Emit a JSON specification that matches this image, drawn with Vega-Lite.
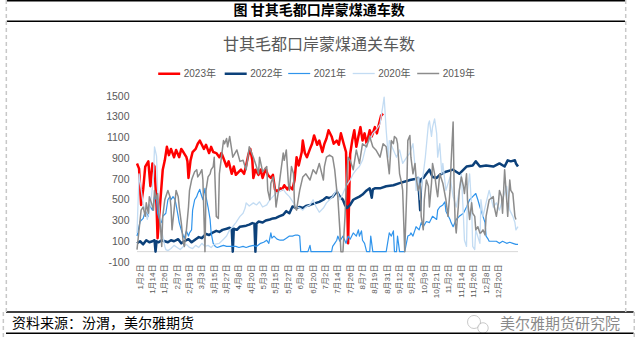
{
  "$schema": "https://vega.github.io/schema/vega-lite/v6.json",
  "width": 381,
  "height": 166,
  "autosize": {"type": "none"},
  "padding": {"left": 137, "top": 96, "right": 118, "bottom": 90},
  "background": "white",
  "config": {"view": {"stroke": null}, "font": "Liberation Sans, Noto Sans CJK SC", "axis": {"labelOverlap": false}},
  "datasets": {
    "counts": [
      {"year":"2023年","i":0,"n":850},{"year":"2023年","i":2,"n":800},{"year":"2023年","i":4,"n":450},{"year":"2023年","i":6,"n":600},{"year":"2023年","i":8,"n":820},{"year":"2023年","i":11,"n":870},{"year":"2023年","i":13,"n":630},{"year":"2023年","i":15,"n":850},{"year":"2023年","i":17,"n":820},{"year":"2023年","i":19,"n":430},{"year":"2023年","i":20,"n":130},{"year":"2023年","i":23,"n":530},{"year":"2023年","i":25,"n":790},{"year":"2023年","i":27,"n":880},{"year":"2023年","i":29,"n":1010},{"year":"2023年","i":31,"n":930},{"year":"2023年","i":33,"n":990},{"year":"2023年","i":36,"n":910},{"year":"2023年","i":38,"n":980},{"year":"2023年","i":41,"n":910},{"year":"2023年","i":43,"n":990},{"year":"2023年","i":45,"n":960},{"year":"2023年","i":48,"n":910},{"year":"2023年","i":49,"n":870},{"year":"2023年","i":50,"n":710},{"year":"2023年","i":52,"n":880},{"year":"2023年","i":54,"n":960},{"year":"2023年","i":57,"n":990},{"year":"2023年","i":59,"n":1040},{"year":"2023年","i":61,"n":1070},{"year":"2023年","i":63,"n":1030},{"year":"2023年","i":65,"n":990},{"year":"2023年","i":67,"n":1030},{"year":"2023年","i":70,"n":950},{"year":"2023年","i":72,"n":1010},{"year":"2023年","i":74,"n":960},{"year":"2023年","i":77,"n":950},{"year":"2023年","i":80,"n":910},{"year":"2023年","i":82,"n":950},{"year":"2023年","i":84,"n":900},{"year":"2023年","i":87,"n":820},{"year":"2023年","i":89,"n":870},{"year":"2023年","i":92,"n":750},{"year":"2023年","i":94,"n":820},{"year":"2023年","i":96,"n":740},{"year":"2023年","i":99,"n":770},{"year":"2023年","i":101,"n":790},{"year":"2023年","i":104,"n":750},{"year":"2023年","i":106,"n":830},{"year":"2023年","i":108,"n":930},{"year":"2023年","i":110,"n":990},{"year":"2023年","i":112,"n":880},{"year":"2023年","i":113,"n":710},{"year":"2023年","i":115,"n":790},{"year":"2023年","i":118,"n":740},{"year":"2023年","i":120,"n":790},{"year":"2023年","i":122,"n":710},{"year":"2023年","i":125,"n":800},{"year":"2023年","i":127,"n":740},{"year":"2023年","i":130,"n":710},{"year":"2023年","i":132,"n":740},{"year":"2023年","i":134,"n":600},{"year":"2023年","i":136,"n":580},{"year":"2023年","i":139,"n":610},{"year":"2023年","i":141,"n":600},{"year":"2023年","i":143,"n":640},{"year":"2023年","i":146,"n":600},{"year":"2023年","i":148,"n":630},{"year":"2023年","i":151,"n":600},{"year":"2023年","i":153,"n":690},{"year":"2023年","i":155,"n":910},{"year":"2023年","i":157,"n":830},{"year":"2023年","i":160,"n":960},{"year":"2023年","i":161,"n":1070},{"year":"2023年","i":163,"n":950},{"year":"2023年","i":165,"n":910},{"year":"2023年","i":168,"n":990},{"year":"2023年","i":170,"n":1040},{"year":"2023年","i":172,"n":1120},{"year":"2023年","i":175,"n":1030},{"year":"2023年","i":177,"n":1070},{"year":"2023年","i":180,"n":960},{"year":"2023年","i":182,"n":1040},{"year":"2023年","i":184,"n":1090},{"year":"2023年","i":186,"n":1170},{"year":"2023年","i":189,"n":1110},{"year":"2023年","i":191,"n":1040},{"year":"2023年","i":194,"n":1070},{"year":"2023年","i":196,"n":1030},{"year":"2023年","i":198,"n":1140},{"year":"2023年","i":201,"n":1030},{"year":"2023年","i":203,"n":960},{"year":"2023年","i":205,"n":80},{"year":"2023年","i":207,"n":940},{"year":"2023年","i":209,"n":1070},{"year":"2023年","i":211,"n":1170},{"year":"2023年","i":213,"n":1010},{"year":"2023年","i":215,"n":1110},{"year":"2023年","i":217,"n":1200},{"year":"2023年","i":219,"n":1070},{"year":"2023年","i":221,"n":1140},{"year":"2023年","i":223,"n":1040},{"year":"2023年","i":226,"n":1170},{"year":"2023年","i":228,"n":1110},{"year":"2023年","i":231,"n":1200},{"year":"2023年","i":233,"n":1140},{"year":"2023年","i":235,"n":1230},{"year":"2023年","i":237,"n":1310},{"year":"2023年","i":239,"n":1330},

      {"year":"2022年","i":0,"n":80},{"year":"2022年","i":3,"n":100},{"year":"2022年","i":6,"n":70},{"year":"2022年","i":9,"n":110},{"year":"2022年","i":12,"n":90},{"year":"2022年","i":15,"n":100},{"year":"2022年","i":17,"n":110},{"year":"2022年","i":18,"n":0},{"year":"2022年","i":19,"n":100},{"year":"2022年","i":21,"n":90},{"year":"2022年","i":24,"n":110},{"year":"2022年","i":27,"n":100},{"year":"2022年","i":30,"n":90},{"year":"2022年","i":33,"n":110},{"year":"2022年","i":36,"n":100},{"year":"2022年","i":40,"n":120},{"year":"2022年","i":43,"n":80},{"year":"2022年","i":46,"n":100},{"year":"2022年","i":50,"n":120},{"year":"2022年","i":53,"n":90},{"year":"2022年","i":57,"n":120},{"year":"2022年","i":60,"n":140},{"year":"2022年","i":63,"n":130},{"year":"2022年","i":67,"n":170},{"year":"2022年","i":70,"n":160},{"year":"2022年","i":73,"n":180},{"year":"2022年","i":77,"n":200},{"year":"2022年","i":80,"n":190},{"year":"2022年","i":83,"n":210},{"year":"2022年","i":87,"n":220},{"year":"2022年","i":90,"n":230},{"year":"2022年","i":92,"n":220},{"year":"2022年","i":93,"n":0},{"year":"2022年","i":94,"n":220},{"year":"2022年","i":97,"n":210},{"year":"2022年","i":100,"n":240},{"year":"2022年","i":103,"n":245},{"year":"2022年","i":106,"n":250},{"year":"2022年","i":109,"n":260},{"year":"2022年","i":112,"n":275},{"year":"2022年","i":114,"n":270},{"year":"2022年","i":115,"n":0},{"year":"2022年","i":116,"n":270},{"year":"2022年","i":118,"n":290},{"year":"2022年","i":122,"n":280},{"year":"2022年","i":125,"n":300},{"year":"2022年","i":129,"n":310},{"year":"2022年","i":132,"n":320},{"year":"2022年","i":135,"n":325},{"year":"2022年","i":138,"n":340},{"year":"2022年","i":142,"n":355},{"year":"2022年","i":145,"n":390},{"year":"2022年","i":148,"n":370},{"year":"2022年","i":151,"n":435},{"year":"2022年","i":155,"n":420},{"year":"2022年","i":158,"n":430},{"year":"2022年","i":161,"n":420},{"year":"2022年","i":164,"n":440},{"year":"2022年","i":168,"n":450},{"year":"2022年","i":171,"n":460},{"year":"2022年","i":174,"n":470},{"year":"2022年","i":177,"n":480},{"year":"2022年","i":181,"n":500},{"year":"2022年","i":184,"n":525},{"year":"2022年","i":187,"n":515},{"year":"2022年","i":190,"n":530},{"year":"2022年","i":194,"n":580},{"year":"2022年","i":197,"n":530},{"year":"2022年","i":200,"n":500},{"year":"2022年","i":202,"n":450},{"year":"2022年","i":204,"n":420},{"year":"2022年","i":207,"n":450},{"year":"2022年","i":210,"n":500},{"year":"2022年","i":213,"n":515},{"year":"2022年","i":216,"n":530},{"year":"2022年","i":219,"n":550},{"year":"2022年","i":223,"n":590},{"year":"2022年","i":226,"n":610},{"year":"2022年","i":228,"n":520},{"year":"2022年","i":229,"n":600},{"year":"2022年","i":231,"n":610},{"year":"2022年","i":236,"n":610},{"year":"2022年","i":242,"n":630},{"year":"2022年","i":249,"n":640},{"year":"2022年","i":255,"n":660},{"year":"2022年","i":262,"n":680},{"year":"2022年","i":265,"n":690},{"year":"2022年","i":270,"n":700},{"year":"2022年","i":273,"n":710},{"year":"2022年","i":275,"n":400},{"year":"2022年","i":276,"n":700},{"year":"2022年","i":278,"n":710},{"year":"2022年","i":281,"n":750},{"year":"2022年","i":284,"n":790},{"year":"2022年","i":287,"n":720},{"year":"2022年","i":291,"n":710},{"year":"2022年","i":294,"n":740},{"year":"2022年","i":300,"n":770},{"year":"2022年","i":307,"n":790},{"year":"2022年","i":313,"n":750},{"year":"2022年","i":320,"n":820},{"year":"2022年","i":326,"n":830},{"year":"2022年","i":329,"n":870},{"year":"2022年","i":333,"n":820},{"year":"2022年","i":339,"n":830},{"year":"2022年","i":346,"n":820},{"year":"2022年","i":352,"n":850},{"year":"2022年","i":357,"n":820},{"year":"2022年","i":360,"n":880},{"year":"2022年","i":363,"n":870},{"year":"2022年","i":367,"n":880},{"year":"2022年","i":368,"n":850},{"year":"2022年","i":370,"n":820},

      {"year":"2021年","i":0,"n":150},{"year":"2021年","i":3,"n":290},{"year":"2021年","i":6,"n":320},{"year":"2021年","i":8,"n":390},{"year":"2021年","i":11,"n":340},{"year":"2021年","i":12,"n":450},{"year":"2021年","i":15,"n":400},{"year":"2021年","i":17,"n":530},{"year":"2021年","i":19,"n":500},{"year":"2021年","i":20,"n":370},{"year":"2021年","i":22,"n":310},{"year":"2021年","i":24,"n":280},{"year":"2021年","i":25,"n":340},{"year":"2021年","i":28,"n":370},{"year":"2021年","i":30,"n":500},{"year":"2021年","i":32,"n":530},{"year":"2021年","i":33,"n":500},{"year":"2021年","i":35,"n":530},{"year":"2021年","i":37,"n":500},{"year":"2021年","i":38,"n":450},{"year":"2021年","i":40,"n":340},{"year":"2021年","i":41,"n":280},{"year":"2021年","i":43,"n":210},{"year":"2021年","i":45,"n":150},{"year":"2021年","i":46,"n":130},{"year":"2021年","i":48,"n":200},{"year":"2021年","i":50,"n":150},{"year":"2021年","i":51,"n":180},{"year":"2021年","i":53,"n":210},{"year":"2021年","i":54,"n":400},{"year":"2021年","i":56,"n":500},{"year":"2021年","i":58,"n":530},{"year":"2021年","i":59,"n":560},{"year":"2021年","i":61,"n":600},{"year":"2021年","i":62,"n":560},{"year":"2021年","i":64,"n":500},{"year":"2021年","i":66,"n":610},{"year":"2021年","i":67,"n":530},{"year":"2021年","i":69,"n":430},{"year":"2021年","i":71,"n":310},{"year":"2021年","i":72,"n":180},{"year":"2021年","i":74,"n":80},{"year":"2021年","i":76,"n":50},{"year":"2021年","i":78,"n":40},{"year":"2021年","i":81,"n":50},{"year":"2021年","i":84,"n":60},{"year":"2021年","i":87,"n":50},{"year":"2021年","i":90,"n":50},{"year":"2021年","i":93,"n":50},{"year":"2021年","i":96,"n":50},{"year":"2021年","i":99,"n":40},{"year":"2021年","i":103,"n":50},{"year":"2021年","i":106,"n":40},{"year":"2021年","i":109,"n":50},{"year":"2021年","i":113,"n":60},{"year":"2021年","i":116,"n":50},{"year":"2021年","i":120,"n":80},{"year":"2021年","i":123,"n":90},{"year":"2021年","i":126,"n":110},{"year":"2021年","i":128,"n":80},{"year":"2021年","i":130,"n":180},{"year":"2021年","i":131,"n":130},{"year":"2021年","i":133,"n":150},{"year":"2021年","i":136,"n":120},{"year":"2021年","i":139,"n":110},{"year":"2021年","i":142,"n":110},{"year":"2021年","i":145,"n":130},{"year":"2021年","i":148,"n":150},{"year":"2021年","i":151,"n":150},{"year":"2021年","i":154,"n":160},{"year":"2021年","i":156,"n":160},{"year":"2021年","i":158,"n":150},{"year":"2021年","i":159,"n":0},{"year":"2021年","i":163,"n":0},{"year":"2021年","i":166,"n":0},{"year":"2021年","i":168,"n":60},{"year":"2021年","i":169,"n":0},{"year":"2021年","i":177,"n":0},{"year":"2021年","i":189,"n":0},{"year":"2021年","i":190,"n":50},{"year":"2021年","i":192,"n":80},{"year":"2021年","i":194,"n":110},{"year":"2021年","i":195,"n":150},{"year":"2021年","i":197,"n":100},{"year":"2021年","i":200,"n":150},{"year":"2021年","i":203,"n":80},{"year":"2021年","i":205,"n":150},{"year":"2021年","i":207,"n":120},{"year":"2021年","i":210,"n":180},{"year":"2021年","i":213,"n":150},{"year":"2021年","i":215,"n":210},{"year":"2021年","i":216,"n":150},{"year":"2021年","i":218,"n":200},{"year":"2021年","i":219,"n":110},{"year":"2021年","i":221,"n":80},{"year":"2021年","i":223,"n":0},{"year":"2021年","i":226,"n":0},{"year":"2021年","i":227,"n":150},{"year":"2021年","i":229,"n":0},{"year":"2021年","i":242,"n":0},{"year":"2021年","i":245,"n":180},{"year":"2021年","i":247,"n":150},{"year":"2021年","i":249,"n":200},{"year":"2021年","i":250,"n":0},{"year":"2021年","i":252,"n":0},{"year":"2021年","i":253,"n":150},{"year":"2021年","i":255,"n":0},{"year":"2021年","i":260,"n":0},{"year":"2021年","i":263,"n":150},{"year":"2021年","i":265,"n":160},{"year":"2021年","i":266,"n":180},{"year":"2021年","i":268,"n":150},{"year":"2021年","i":270,"n":210},{"year":"2021年","i":271,"n":240},{"year":"2021年","i":274,"n":210},{"year":"2021年","i":276,"n":280},{"year":"2021年","i":278,"n":240},{"year":"2021年","i":281,"n":290},{"year":"2021年","i":284,"n":280},{"year":"2021年","i":287,"n":340},{"year":"2021年","i":291,"n":310},{"year":"2021年","i":292,"n":400},{"year":"2021年","i":294,"n":430},{"year":"2021年","i":297,"n":450},{"year":"2021年","i":299,"n":480},{"year":"2021年","i":300,"n":390},{"year":"2021年","i":304,"n":310},{"year":"2021年","i":305,"n":280},{"year":"2021年","i":307,"n":240},{"year":"2021年","i":310,"n":310},{"year":"2021年","i":313,"n":340},{"year":"2021年","i":317,"n":370},{"year":"2021年","i":320,"n":430},{"year":"2021年","i":323,"n":500},{"year":"2021年","i":326,"n":530},{"year":"2021年","i":329,"n":560},{"year":"2021年","i":331,"n":500},{"year":"2021年","i":333,"n":430},{"year":"2021年","i":336,"n":340},{"year":"2021年","i":338,"n":280},{"year":"2021年","i":339,"n":150},{"year":"2021年","i":341,"n":120},{"year":"2021年","i":342,"n":100},{"year":"2021年","i":346,"n":100},{"year":"2021年","i":349,"n":100},{"year":"2021年","i":352,"n":80},{"year":"2021年","i":355,"n":100},{"year":"2021年","i":359,"n":80},{"year":"2021年","i":362,"n":90},{"year":"2021年","i":365,"n":80},{"year":"2021年","i":368,"n":70},{"year":"2021年","i":370,"n":70},

      {"year":"2020年","i":0,"n":180},{"year":"2020年","i":2,"n":750},{"year":"2020年","i":4,"n":600},{"year":"2020年","i":6,"n":460},{"year":"2020年","i":8,"n":400},{"year":"2020年","i":10,"n":310},{"year":"2020年","i":12,"n":400},{"year":"2020年","i":14,"n":530},{"year":"2020年","i":16,"n":720},{"year":"2020年","i":17,"n":1010},{"year":"2020年","i":19,"n":920},{"year":"2020年","i":20,"n":600},{"year":"2020年","i":22,"n":340},{"year":"2020年","i":24,"n":210},{"year":"2020年","i":25,"n":150},{"year":"2020年","i":27,"n":50},{"year":"2020年","i":28,"n":20},{"year":"2020年","i":30,"n":10},{"year":"2020年","i":33,"n":30},{"year":"2020年","i":36,"n":60},{"year":"2020年","i":39,"n":40},{"year":"2020年","i":42,"n":20},{"year":"2020年","i":45,"n":50},{"year":"2020年","i":48,"n":70},{"year":"2020年","i":51,"n":40},{"year":"2020年","i":54,"n":30},{"year":"2020年","i":57,"n":60},{"year":"2020年","i":60,"n":40},{"year":"2020年","i":63,"n":80},{"year":"2020年","i":66,"n":50},{"year":"2020年","i":69,"n":60},{"year":"2020年","i":72,"n":40},{"year":"2020年","i":75,"n":70},{"year":"2020年","i":80,"n":80},{"year":"2020年","i":84,"n":120},{"year":"2020年","i":87,"n":150},{"year":"2020年","i":90,"n":210},{"year":"2020年","i":93,"n":240},{"year":"2020年","i":96,"n":280},{"year":"2020年","i":100,"n":340},{"year":"2020年","i":103,"n":370},{"year":"2020年","i":105,"n":420},{"year":"2020年","i":106,"n":470},{"year":"2020年","i":109,"n":440},{"year":"2020年","i":113,"n":470},{"year":"2020年","i":116,"n":450},{"year":"2020年","i":119,"n":480},{"year":"2020年","i":122,"n":430},{"year":"2020年","i":126,"n":450},{"year":"2020年","i":129,"n":500},{"year":"2020年","i":132,"n":530},{"year":"2020年","i":135,"n":560},{"year":"2020年","i":139,"n":580},{"year":"2020年","i":142,"n":600},{"year":"2020年","i":145,"n":560},{"year":"2020年","i":148,"n":530},{"year":"2020年","i":152,"n":470},{"year":"2020年","i":155,"n":430},{"year":"2020年","i":158,"n":420},{"year":"2020年","i":161,"n":400},{"year":"2020年","i":164,"n":430},{"year":"2020年","i":168,"n":450},{"year":"2020年","i":171,"n":500},{"year":"2020年","i":174,"n":430},{"year":"2020年","i":177,"n":380},{"year":"2020年","i":181,"n":420},{"year":"2020年","i":184,"n":470},{"year":"2020年","i":187,"n":500},{"year":"2020年","i":190,"n":530},{"year":"2020年","i":194,"n":600},{"year":"2020年","i":197,"n":500},{"year":"2020年","i":200,"n":560},{"year":"2020年","i":203,"n":630},{"year":"2020年","i":207,"n":690},{"year":"2020年","i":210,"n":750},{"year":"2020年","i":213,"n":790},{"year":"2020年","i":216,"n":820},{"year":"2020年","i":219,"n":880},{"year":"2020年","i":223,"n":1040},{"year":"2020年","i":226,"n":1070},{"year":"2020年","i":229,"n":1140},{"year":"2020年","i":232,"n":1170},{"year":"2020年","i":236,"n":1230},{"year":"2020年","i":239,"n":1420},{"year":"2020年","i":240,"n":1490},{"year":"2020年","i":242,"n":1170},{"year":"2020年","i":244,"n":910},{"year":"2020年","i":245,"n":1070},{"year":"2020年","i":249,"n":980},{"year":"2020年","i":252,"n":910},{"year":"2020年","i":255,"n":980},{"year":"2020年","i":258,"n":850},{"year":"2020年","i":262,"n":910},{"year":"2020年","i":265,"n":950},{"year":"2020年","i":268,"n":1040},{"year":"2020年","i":270,"n":820},{"year":"2020年","i":271,"n":590},{"year":"2020年","i":273,"n":720},{"year":"2020年","i":275,"n":500},{"year":"2020年","i":276,"n":630},{"year":"2020年","i":278,"n":750},{"year":"2020年","i":280,"n":910},{"year":"2020年","i":283,"n":1230},{"year":"2020年","i":284,"n":1260},{"year":"2020年","i":286,"n":1110},{"year":"2020年","i":287,"n":1200},{"year":"2020年","i":289,"n":1280},{"year":"2020年","i":291,"n":1140},{"year":"2020年","i":292,"n":910},{"year":"2020年","i":294,"n":1040},{"year":"2020年","i":296,"n":750},{"year":"2020年","i":297,"n":850},{"year":"2020年","i":300,"n":590},{"year":"2020年","i":304,"n":720},{"year":"2020年","i":307,"n":530},{"year":"2020年","i":310,"n":430},{"year":"2020年","i":313,"n":590},{"year":"2020年","i":315,"n":750},{"year":"2020年","i":317,"n":340},{"year":"2020年","i":318,"n":110},{"year":"2020年","i":320,"n":50},{"year":"2020年","i":321,"n":590},{"year":"2020年","i":323,"n":750},{"year":"2020年","i":325,"n":430},{"year":"2020年","i":326,"n":50},{"year":"2020年","i":328,"n":20},{"year":"2020年","i":329,"n":210},{"year":"2020年","i":333,"n":80},{"year":"2020年","i":334,"n":500},{"year":"2020年","i":336,"n":340},{"year":"2020年","i":339,"n":470},{"year":"2020年","i":342,"n":590},{"year":"2020年","i":346,"n":430},{"year":"2020年","i":349,"n":470},{"year":"2020年","i":352,"n":400},{"year":"2020年","i":355,"n":500},{"year":"2020年","i":359,"n":630},{"year":"2020年","i":362,"n":400},{"year":"2020年","i":365,"n":340},{"year":"2020年","i":367,"n":280},{"year":"2020年","i":368,"n":210},{"year":"2020年","i":370,"n":240},

      {"year":"2019年","i":0,"n":20},{"year":"2019年","i":2,"n":210},{"year":"2019年","i":4,"n":400},{"year":"2019年","i":6,"n":430},{"year":"2019年","i":8,"n":340},{"year":"2019年","i":9,"n":470},{"year":"2019年","i":11,"n":370},{"year":"2019年","i":12,"n":530},{"year":"2019年","i":14,"n":470},{"year":"2019年","i":16,"n":400},{"year":"2019年","i":17,"n":590},{"year":"2019年","i":19,"n":500},{"year":"2019年","i":20,"n":560},{"year":"2019年","i":21,"n":400},{"year":"2019年","i":23,"n":210},{"year":"2019年","i":24,"n":50},{"year":"2019年","i":25,"n":340},{"year":"2019年","i":27,"n":500},{"year":"2019年","i":29,"n":560},{"year":"2019年","i":30,"n":590},{"year":"2019年","i":32,"n":530},{"year":"2019年","i":33,"n":430},{"year":"2019年","i":34,"n":210},{"year":"2019年","i":36,"n":400},{"year":"2019年","i":38,"n":590},{"year":"2019年","i":40,"n":530},{"year":"2019年","i":41,"n":430},{"year":"2019年","i":43,"n":280},{"year":"2019年","i":45,"n":80},{"year":"2019年","i":46,"n":50},{"year":"2019年","i":48,"n":210},{"year":"2019年","i":50,"n":430},{"year":"2019年","i":51,"n":590},{"year":"2019年","i":53,"n":690},{"year":"2019年","i":54,"n":720},{"year":"2019年","i":56,"n":770},{"year":"2019年","i":58,"n":790},{"year":"2019年","i":59,"n":720},{"year":"2019年","i":61,"n":750},{"year":"2019年","i":63,"n":790},{"year":"2019年","i":64,"n":690},{"year":"2019年","i":66,"n":0},{"year":"2019年","i":67,"n":590},{"year":"2019年","i":69,"n":720},{"year":"2019年","i":71,"n":750},{"year":"2019年","i":72,"n":790},{"year":"2019年","i":74,"n":820},{"year":"2019年","i":75,"n":910},{"year":"2019年","i":77,"n":340},{"year":"2019年","i":79,"n":320},{"year":"2019年","i":80,"n":750},{"year":"2019年","i":82,"n":910},{"year":"2019年","i":84,"n":1070},{"year":"2019年","i":85,"n":1040},{"year":"2019年","i":87,"n":1090},{"year":"2019年","i":88,"n":1010},{"year":"2019年","i":90,"n":1110},{"year":"2019年","i":92,"n":980},{"year":"2019年","i":93,"n":910},{"year":"2019年","i":97,"n":980},{"year":"2019年","i":100,"n":870},{"year":"2019年","i":103,"n":880},{"year":"2019年","i":106,"n":790},{"year":"2019年","i":109,"n":1010},{"year":"2019年","i":113,"n":910},{"year":"2019年","i":116,"n":820},{"year":"2019年","i":118,"n":750},{"year":"2019年","i":119,"n":910},{"year":"2019年","i":122,"n":770},{"year":"2019年","i":126,"n":820},{"year":"2019年","i":127,"n":590},{"year":"2019年","i":129,"n":500},{"year":"2019年","i":130,"n":660},{"year":"2019年","i":132,"n":720},{"year":"2019年","i":134,"n":590},{"year":"2019年","i":135,"n":430},{"year":"2019年","i":137,"n":560},{"year":"2019年","i":139,"n":720},{"year":"2019年","i":142,"n":950},{"year":"2019年","i":143,"n":880},{"year":"2019年","i":145,"n":980},{"year":"2019年","i":147,"n":660},{"year":"2019年","i":148,"n":590},{"year":"2019年","i":150,"n":820},{"year":"2019年","i":152,"n":750},{"year":"2019年","i":153,"n":430},{"year":"2019年","i":155,"n":400},{"year":"2019年","i":156,"n":470},{"year":"2019年","i":158,"n":590},{"year":"2019年","i":161,"n":720},{"year":"2019年","i":164,"n":750},{"year":"2019年","i":168,"n":690},{"year":"2019年","i":171,"n":790},{"year":"2019年","i":174,"n":750},{"year":"2019年","i":177,"n":850},{"year":"2019年","i":181,"n":690},{"year":"2019年","i":182,"n":820},{"year":"2019年","i":184,"n":910},{"year":"2019年","i":187,"n":930},{"year":"2019年","i":190,"n":910},{"year":"2019年","i":192,"n":790},{"year":"2019年","i":194,"n":590},{"year":"2019年","i":195,"n":530},{"year":"2019年","i":197,"n":210},{"year":"2019年","i":198,"n":0},{"year":"2019年","i":200,"n":0},{"year":"2019年","i":202,"n":340},{"year":"2019年","i":203,"n":590},{"year":"2019年","i":205,"n":910},{"year":"2019年","i":207,"n":880},{"year":"2019年","i":210,"n":790},{"year":"2019年","i":213,"n":980},{"year":"2019年","i":216,"n":850},{"year":"2019年","i":219,"n":1040},{"year":"2019年","i":223,"n":1010},{"year":"2019年","i":226,"n":1110},{"year":"2019年","i":229,"n":1010},{"year":"2019年","i":232,"n":980},{"year":"2019年","i":236,"n":910},{"year":"2019年","i":239,"n":1040},{"year":"2019年","i":242,"n":1010},{"year":"2019年","i":245,"n":750},{"year":"2019年","i":247,"n":1070},{"year":"2019年","i":249,"n":1040},{"year":"2019年","i":250,"n":1110},{"year":"2019年","i":252,"n":1090},{"year":"2019年","i":253,"n":1040},{"year":"2019年","i":255,"n":750},{"year":"2019年","i":257,"n":660},{"year":"2019年","i":258,"n":590},{"year":"2019年","i":260,"n":0},{"year":"2019年","i":262,"n":590},{"year":"2019年","i":263,"n":1070},{"year":"2019年","i":265,"n":1120},{"year":"2019年","i":266,"n":910},{"year":"2019年","i":268,"n":750},{"year":"2019年","i":270,"n":850},{"year":"2019年","i":271,"n":720},{"year":"2019年","i":273,"n":590},{"year":"2019年","i":275,"n":660},{"year":"2019年","i":276,"n":340},{"year":"2019年","i":278,"n":210},{"year":"2019年","i":279,"n":500},{"year":"2019年","i":281,"n":690},{"year":"2019年","i":283,"n":630},{"year":"2019年","i":284,"n":430},{"year":"2019年","i":286,"n":660},{"year":"2019年","i":287,"n":850},{"year":"2019年","i":289,"n":750},{"year":"2019年","i":291,"n":590},{"year":"2019年","i":292,"n":530},{"year":"2019年","i":294,"n":750},{"year":"2019年","i":297,"n":660},{"year":"2019年","i":300,"n":500},{"year":"2019年","i":302,"n":340},{"year":"2019年","i":304,"n":590},{"year":"2019年","i":305,"n":850},{"year":"2019年","i":307,"n":1250},{"year":"2019年","i":308,"n":590},{"year":"2019年","i":309,"n":280},{"year":"2019年","i":310,"n":180},{"year":"2019年","i":312,"n":430},{"year":"2019年","i":313,"n":590},{"year":"2019年","i":315,"n":720},{"year":"2019年","i":317,"n":630},{"year":"2019年","i":318,"n":560},{"year":"2019年","i":320,"n":750},{"year":"2019年","i":321,"n":500},{"year":"2019年","i":323,"n":310},{"year":"2019年","i":325,"n":470},{"year":"2019年","i":326,"n":370},{"year":"2019年","i":328,"n":340},{"year":"2019年","i":329,"n":210},{"year":"2019年","i":331,"n":240},{"year":"2019年","i":333,"n":180},{"year":"2019年","i":334,"n":180},{"year":"2019年","i":336,"n":210},{"year":"2019年","i":338,"n":160},{"year":"2019年","i":339,"n":340},{"year":"2019年","i":342,"n":500},{"year":"2019年","i":346,"n":530},{"year":"2019年","i":347,"n":430},{"year":"2019年","i":349,"n":340},{"year":"2019年","i":351,"n":470},{"year":"2019年","i":352,"n":590},{"year":"2019年","i":354,"n":530},{"year":"2019年","i":355,"n":370},{"year":"2019年","i":357,"n":790},{"year":"2019年","i":359,"n":500},{"year":"2019年","i":360,"n":340},{"year":"2019年","i":362,"n":690},{"year":"2019年","i":363,"n":590},{"year":"2019年","i":365,"n":560},{"year":"2019年","i":367,"n":340},{"year":"2019年","i":368,"n":310}
    ]
  },
  "layer": [
    {
      "data": {"values": [{}]},
      "mark": {"type": "rule", "color": "#D9D9D9", "strokeWidth": 1},
      "encoding": {"y": {"datum": 0, "type": "quantitative"}}
    },
    {
      "data": {"name": "counts"},
      "mark": {"type": "line", "strokeJoin": "round"},
      "encoding": {
        "x": {
          "field": "i", "type": "quantitative",
          "scale": {"domain": [0, 370], "nice": false, "zero": false},
          "axis": {
            "values": [1,13,25,37,49,61,73,85,97,109,121,133,145,157,169,181,193,205,217,229,241,253,265,277,289,301,313,325,337,349],
            "tickCount": 60,
            "labelExpr": "['1月2日','1月14日','1月26日','2月7日','2月19日','3月3日','3月15日','3月27日','4月8日','4月20日','5月3日','5月15日','5月27日','6月8日','6月20日','7月2日','7月14日','7月26日','8月7日','8月19日','8月31日','9月12日','9月24日','10月9日','10月21日','11月2日','11月14日','11月26日','12月8日','12月20日'][round((datum.value-1)/12)]",
            "labelAngle": 270, "labelFontSize": 8, "labelColor": "#595959",
            "labelFont": "Liberation Sans, Noto Sans CJK SC",
            "ticks": false, "domain": false, "grid": false, "title": null,
            "labelPadding": 2, "labelOffset": 2, "labelOverlap": false, "labelFlush": false, "labelBound": false
          }
        },
        "y": {
          "field": "n", "type": "quantitative",
          "scale": {"domain": [-100, 1500], "nice": false, "zero": false},
          "axis": {
            "values": [-100,100,300,500,700,900,1100,1300,1500],
            "tickCount": 20,
            "labelExpr": "'' + datum.value",
            "labelFontSize": 10.5, "labelColor": "#595959", "labelFont": "Liberation Sans",
            "ticks": false, "domain": false, "grid": false, "title": null, "labelPadding": 8, "labelOverlap": false
          }
        },
        "color": {
          "field": "year", "type": "nominal",
          "scale": {"domain": ["2023年","2022年","2021年","2020年","2019年"], "range": ["#FF0000","#0C417A","#2F94EC","#C3DCF3","#8C8C8C"]},
          "legend": {
            "orient": "none", "legendX": 19.7, "legendY": -35, "direction": "horizontal", "columns": 5,
            "title": null, "symbolType": "stroke", "symbolSize": 484, "labelFontSize": 10,
            "labelColor": "#595959", "labelFont": "Liberation Sans, Noto Sans CJK SC",
            "columnPadding": 2.5, "labelOffset": 2, "padding": 0, "symbolOffset": 0
          }
        },
        "strokeWidth": {
          "field": "year", "type": "nominal",
          "scale": {"type": "ordinal", "domain": ["2023年","2022年","2021年","2020年","2019年"], "range": [2.5,2.5,1.2,1.3,1.5]},
          "legend": {
            "orient": "none", "legendX": 19.7, "legendY": -35, "direction": "horizontal", "columns": 5,
            "title": null, "symbolType": "stroke", "symbolSize": 484, "labelFontSize": 10,
            "labelColor": "#595959", "labelFont": "Liberation Sans, Noto Sans CJK SC",
            "columnPadding": 2.5, "labelOffset": 2, "padding": 0, "symbolOffset": 0
          }
        }
      }
    },
    {
      "data": {"values": [{"t": "图 甘其毛都口岸蒙煤通车数"}]},
      "mark": {"type": "text", "font": "Noto Sans CJK SC", "fontSize": 14, "fontWeight": "bold", "color": "#000000", "align": "center", "baseline": "middle"},
      "encoding": {"x": {"datum": 176.8, "type": "quantitative"}, "y": {"datum": 2319, "type": "quantitative"}, "text": {"field": "t"}}
    },
    {
      "data": {"values": [{"t": "甘其毛都口岸蒙煤通关车数"}]},
      "mark": {"type": "text", "font": "Noto Sans CJK SC", "fontSize": 16, "color": "#595959", "align": "center", "baseline": "middle"},
      "encoding": {"x": {"datum": 176.8, "type": "quantitative"}, "y": {"datum": 1992, "type": "quantitative"}, "text": {"field": "t"}}
    },
    {
      "data": {"values": [{"t": "资料来源：汾渭，美尔雅期货"}]},
      "mark": {"type": "text", "font": "Noto Sans CJK SC", "fontSize": 14, "color": "#000000", "align": "left", "baseline": "middle"},
      "encoding": {"x": {"datum": -121.4, "type": "quantitative"}, "y": {"datum": -698, "type": "quantitative"}, "text": {"field": "t"}}
    },
    {
      "data": {"values": [{"t": "美尔雅期货研究院"}]},
      "mark": {"type": "text", "font": "Noto Sans CJK SC", "fontSize": 15, "color": "#8A8A8A", "align": "right", "baseline": "middle"},
      "encoding": {"x": {"datum": 469.1, "type": "quantitative"}, "y": {"datum": -698, "type": "quantitative"}, "text": {"field": "t"}}
    },
    {
      "data": {"values": [{}]},
      "mark": {"type": "point", "shape": "circle", "filled": false, "size": 170, "color": "#B4B4B4", "strokeWidth": 1},
      "encoding": {"x": {"datum": 327.3, "type": "quantitative"}, "y": {"datum": -678, "type": "quantitative"}}
    },
    {
      "data": {"values": [{}]},
      "mark": {"type": "point", "shape": "circle", "filled": true, "size": 110, "color": "#FFFFFF", "stroke": "#B4B4B4", "strokeWidth": 1},
      "encoding": {"x": {"datum": 336, "type": "quantitative"}, "y": {"datum": -736, "type": "quantitative"}}
    },
    {
      "data": {"values": [{}]},
      "mark": {"type": "rule", "color": "#000000", "strokeWidth": 1.5},
      "encoding": {"x": {"datum": -126.5, "type": "quantitative"}, "x2": {"datum": 473.9}, "y": {"datum": 2418.6, "type": "quantitative"}}
    },
    {
      "data": {"values": [{}]},
      "mark": {"type": "rule", "color": "#000000", "strokeWidth": 1.5},
      "encoding": {"x": {"datum": -126.5, "type": "quantitative"}, "x2": {"datum": 473.9}, "y": {"datum": 2220, "type": "quantitative"}}
    },
    {
      "data": {"values": [{}]},
      "mark": {"type": "rule", "color": "#000000", "strokeWidth": 1.5},
      "encoding": {"x": {"datum": -127.2, "type": "quantitative"}, "x2": {"datum": 482.3}, "y": {"datum": -582, "type": "quantitative"}}
    },
    {
      "data": {"values": [{}]},
      "mark": {"type": "rule", "color": "#000000", "strokeWidth": 1.5},
      "encoding": {"x": {"datum": -127.2, "type": "quantitative"}, "x2": {"datum": 482.3}, "y": {"datum": -787, "type": "quantitative"}}
    },
    {
      "data": {"values": [{}]},
      "mark": {"type": "rule", "color": "#C8C8C8", "strokeWidth": 1.5, "strokeDash": [4, 3]},
      "encoding": {"x": {"datum": -126.9, "type": "quantitative"}, "y": {"datum": 2425, "type": "quantitative"}, "y2": {"datum": -582}}
    },
    {
      "data": {"values": [{}]},
      "mark": {"type": "rule", "color": "#C8C8C8", "strokeWidth": 1.5, "strokeDash": [4, 3]},
      "encoding": {"x": {"datum": 474.6, "type": "quantitative"}, "y": {"datum": 2425, "type": "quantitative"}, "y2": {"datum": -582}}
    },
    {
      "data": {"values": [{}]},
      "mark": {"type": "rule", "color": "#C8C8C8", "strokeWidth": 1.5, "strokeDash": [4, 3]},
      "encoding": {"x": {"datum": -129.8, "type": "quantitative"}, "y": {"datum": -582, "type": "quantitative"}, "y2": {"datum": -852}}
    },
    {
      "data": {"values": [{}]},
      "mark": {"type": "rule", "color": "#C8C8C8", "strokeWidth": 1.5, "strokeDash": [4, 3]},
      "encoding": {"x": {"datum": 482.9, "type": "quantitative"}, "y": {"datum": -582, "type": "quantitative"}, "y2": {"datum": -852}}
    }
  ]
}
